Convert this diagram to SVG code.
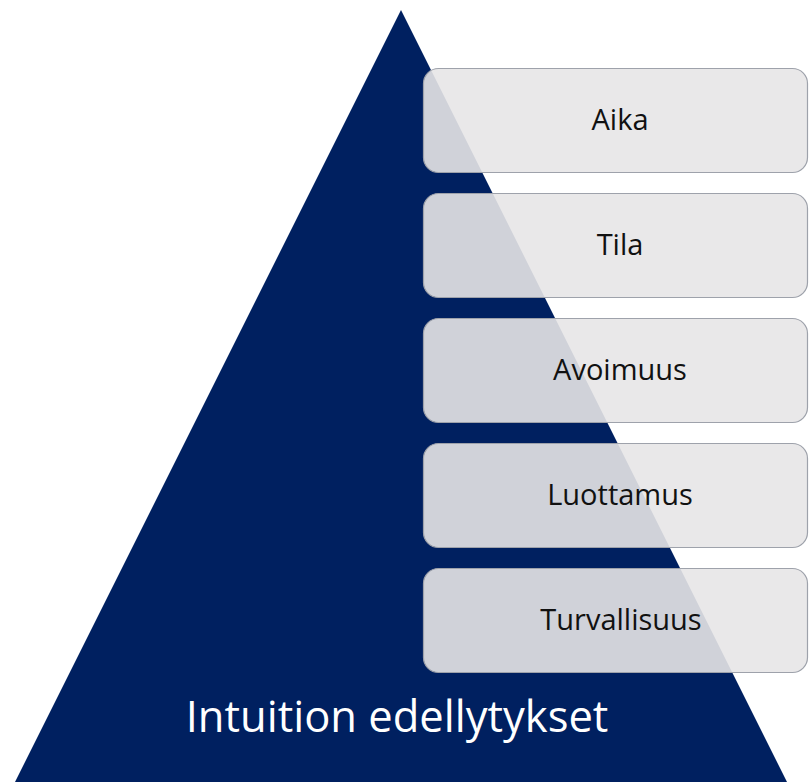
<svg xmlns="http://www.w3.org/2000/svg" width="809" height="782" viewBox="0 0 809 782">
  <style>
    .box { fill: #e7e6e7; fill-opacity: 0.9; stroke: #9ea2ab; stroke-width: 1.2; }
    .lbl { font-family: "Open Sans", "Noto Sans", sans-serif; font-size: 29px; fill: #111111; text-anchor: middle; }
    .title { font-family: "Open Sans", "Noto Sans", sans-serif; font-size: 43.5px; fill: #ffffff; text-anchor: middle; }
  </style>
  <rect width="809" height="782" fill="#ffffff"/>
  <g id="pyramid">
    <polygon points="401,10 10,792 792,792" fill="#002060"/>
    <text class="title" x="397" y="732">Intuition edellytykset</text>
  </g>
  <g id="aika">
    <rect class="box" x="423.5" y="68.5" width="384" height="104" rx="15"/>
    <text class="lbl" x="620" y="130">Aika</text>
  </g>
  <g id="tila">
    <rect class="box" x="423.5" y="193.5" width="384" height="104" rx="15"/>
    <text class="lbl" x="620" y="255">Tila</text>
  </g>
  <g id="avoimuus">
    <rect class="box" x="423.5" y="318.5" width="384" height="104" rx="15"/>
    <text class="lbl" x="620" y="380">Avoimuus</text>
  </g>
  <g id="luottamus">
    <rect class="box" x="423.5" y="443.5" width="384" height="104" rx="15"/>
    <text class="lbl" x="620" y="505">Luottamus</text>
  </g>
  <g id="turvallisuus">
    <rect class="box" x="423.5" y="568.5" width="384" height="104" rx="15"/>
    <text class="lbl" x="621" y="630">Turvallisuus</text>
  </g>
  <g id="connectors"/>
</svg>
